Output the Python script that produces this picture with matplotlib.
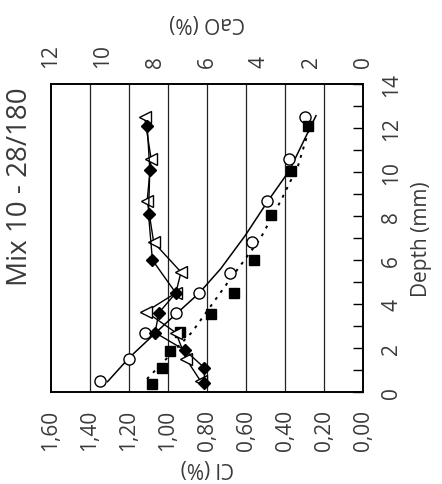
import matplotlib
matplotlib.use("Agg")
import matplotlib.pyplot as plt

plt.rcParams["font.family"] = ["Open Sans", "DejaVu Sans"]

# chloride profiles (Cl %) against depth (mm)
cl_circ_depth = [0.5, 1.5, 2.7, 3.6, 4.5, 5.4, 6.8, 8.7, 10.6, 12.5]
cl_circ = [1.35, 1.20, 1.12, 0.96, 0.84, 0.68, 0.57, 0.49, 0.38, 0.30]
cl_circ_fit_depth = [0.47, 1.55, 3.05, 4.5, 5.6, 7.1, 8.7, 10.06, 12.56]
cl_circ_fit = [1.31, 1.20, 1.02, 0.84, 0.73, 0.605, 0.486, 0.378, 0.241]

cl_sq_depth = [0.36, 1.08, 1.86, 2.71, 3.55, 4.48, 6.0, 8.05, 10.06, 12.09]
cl_sq = [1.08, 1.03, 0.99, 0.94, 0.78, 0.66, 0.56, 0.47, 0.37, 0.28]
cl_sq_fit_depth = [0.59, 2.71, 4.91, 6.95, 8.77, 10.29, 12.33]
cl_sq_fit = [1.108, 0.878, 0.699, 0.528, 0.417, 0.333, 0.263]

# calcium oxide profiles (CaO %)
cao_dia_depth = [0.4, 1.1, 1.9, 2.7, 3.6, 4.5, 6.0, 8.1, 10.1, 12.1]
cao_dia = [6.1, 6.1, 6.85, 8.0, 7.85, 7.2, 8.1, 8.25, 8.2, 8.3]
cao_tri_depth = [0.5, 1.5, 2.7, 3.65, 4.5, 5.45, 6.8, 8.7, 10.6, 12.5]
cao_tri = [6.25, 6.8, 7.2, 8.35, 7.2, 7.0, 8.05, 8.3, 8.15, 8.4]

cl_ticks = [0.0, 0.2, 0.4, 0.6, 0.8, 1.0, 1.2, 1.4, 1.6]
cao_ticks = [0, 2, 4, 6, 8, 10, 12]
depth_ticks = [0, 2, 4, 6, 8, 10, 12, 14]

txt = "#3a3a3a"
fs = 15
W, H = 442, 485
fig = plt.figure(figsize=(W / 100, H / 100), dpi=100)
ax = fig.add_axes([51 / W, (H - 393) / H, 312 / W, 308 / H])

ax.set_xlim(1.6, 0)
ax.set_ylim(0, 14)
for v in cl_ticks[1:-1]:
    ax.axvline(v, color="#222222", lw=0.9, zorder=1)

ax.plot(cl_circ_fit, cl_circ_fit_depth, color="black", lw=1.1, zorder=2)
ax.plot(cl_sq_fit, cl_sq_fit_depth, color="black", lw=1.4,
        linestyle=(0, (1.5, 3)), zorder=2)
ax.plot(cl_circ, cl_circ_depth, "o", ms=8, mfc="white", mec="black",
        mew=1.0, zorder=4)
ax.plot(cl_sq, cl_sq_depth, "s", ms=7, color="black", zorder=4)

ax.set_xticks(cl_ticks)
ax.set_xticklabels([f"{v:.2f}".replace(".", ",") for v in cl_ticks])
ax.tick_params(axis="x", length=0, pad=12, labelsize=fs, labelcolor=txt,
               labelrotation=90)

ax.yaxis.tick_right()
ax.set_yticks(depth_ticks)
ax.set_yticks(range(15), minor=True)
ax.tick_params(axis="y", which="both", direction="in", length=7, width=1,
               pad=13, labelsize=fs, labelcolor=txt)
for lab in ax.get_yticklabels():
    lab.set_rotation(90)
    lab.set_va("center")

ax2 = ax.twiny()
ax2.set_xlim(12, 0)
ax2.plot(cao_tri, cao_tri_depth, "-<", color="black", lw=1.0, ms=9,
         mfc="white", mec="black", mew=1.0, zorder=3)
ax2.plot(cao_dia, cao_dia_depth, "-D", color="black", lw=1.0, ms=6,
         zorder=3)
ax2.set_xticks(cao_ticks)
ax2.tick_params(axis="x", length=0, pad=12, labelsize=fs, labelcolor=txt,
                labelrotation=90)

for a in (ax, ax2):
    for s in a.spines.values():
        s.set_linewidth(1.2)

fig.text(207 / W, 1 - 468 / H, "Cl (%)", rotation=180, ha="center",
         va="center", fontsize=fs, color=txt)
fig.text(207 / W, 1 - 22 / H, "CaO (%)", rotation=180, ha="center",
         va="center", fontsize=fs, color=txt)
fig.text(421 / W, 1 - 239 / H, "Depth (mm)", rotation=90, ha="center",
         va="center", fontsize=fs, color=txt)
fig.text(20 / W, 1 - 187 / H, "Mix 10 - 28/180", rotation=90, ha="center",
         va="center", fontsize=20, color=txt)

fig.savefig("out.png", dpi=100)
